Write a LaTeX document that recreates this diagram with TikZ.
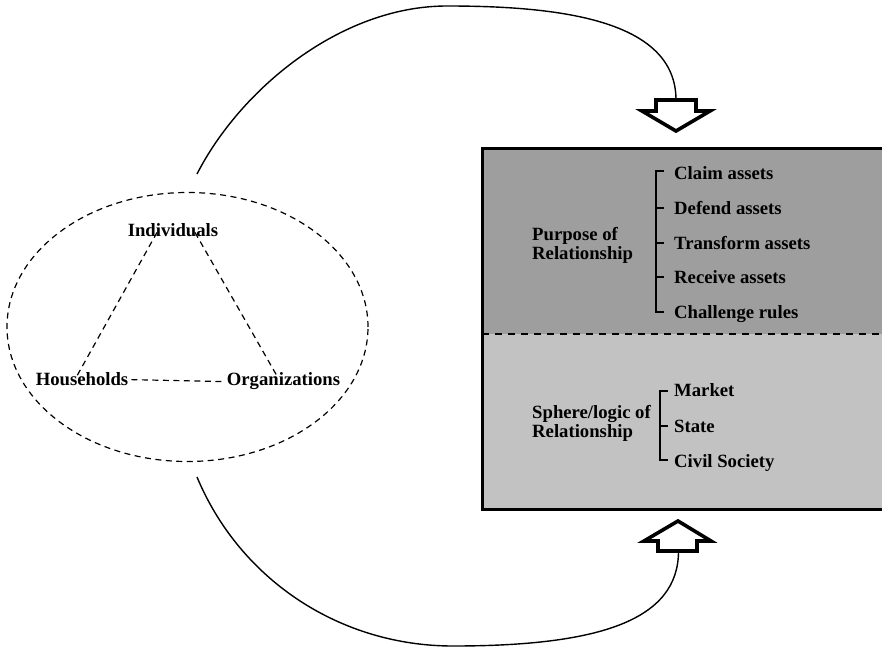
\documentclass[tikz,border=0pt]{standalone}
\usepackage{fontspec}
\setmainfont{Liberation Serif}
\usetikzlibrary{shapes.geometric}
\definecolor{topgray}{gray}{0.62}
\definecolor{botgray}{gray}{0.76}
\begin{document}
\begin{tikzpicture}[x=1pt,y=-1pt,
  lbl/.style={inner sep=0pt,font=\fontsize{18.7}{18.3}\selectfont\bfseries},
  dashline/.style={line width=1.2pt,dash pattern=on 6pt off 4.5pt},
  curveline/.style={line width=1.4pt},
  bigarrow/.style={line width=3.6pt,line join=miter,fill=white,draw=black},
  brack/.style={line width=1.3pt}]
\useasboundingbox (0,0) rectangle (882,647);
% right box
\fill[topgray] (482,148) rectangle (886,334);
\fill[botgray] (482,334) rectangle (886,510);
\draw[line width=2.6pt,dash pattern=on 7pt off 6pt] (482,334) -- (886,334);
\draw[line width=3pt,line join=miter] (886,148.5) -- (482.5,148.5) -- (482.5,509.5) -- (886,509.5);
% ellipse
\node[draw,ellipse,dashline,minimum width=361pt,minimum height=269pt,inner sep=0pt] (ell) at (187.5,327) {};
% left labels
\node[lbl,anchor=base] (ind) at (173,236) {Individuals};
\node[lbl,anchor=base] (hh) at (82,385) {Households};
\node[lbl,anchor=base] (org) at (283.5,385) {Organizations};
\draw[dashline] ([xshift=-16pt,yshift=4pt]ind.south) -- ([xshift=-5pt,yshift=-4pt]hh.north);
\draw[dashline] ([xshift=22pt,yshift=4pt]ind.south) -- ([xshift=-6pt,yshift=-5pt]org.north);
\draw[dashline] ([xshift=3pt,yshift=-1pt]hh.east) -- ([xshift=-4pt,yshift=-1pt]org.west);
% arrows
\draw[bigarrow] (656,100) -- (696,100) -- (696,111) -- (710,111) -- (676,131) -- (642,111) -- (656,111) -- cycle;
\coordinate (topin) at (676,100);
\draw[bigarrow] (658,551) -- (697,551) -- (697,541) -- (711,541) -- (678,521) -- (644,541) -- (658,541) -- cycle;
\coordinate (botin) at (678.5,551);
\coordinate (topout) at (197,174);
\coordinate (botout) at (197,477);
\draw[curveline] (topout) .. controls (240,90) and (340,6) .. (447,6) .. controls (560,6) and (676,20) .. (topin);
\draw[curveline] (botout) .. controls (240,580) and (340,646) .. (453,646) .. controls (600,646) and (678.5,620) .. (botin);
% purpose block
\node[lbl,anchor=base west,align=left] (purp) at (532,259) {Purpose of\\Relationship};
\node[lbl,anchor=base west] (p1) at (674,179) {Claim assets};
\node[lbl,anchor=base west] (p2) at (674,214) {Defend assets};
\node[lbl,anchor=base west] (p3) at (674,249) {Transform assets};
\node[lbl,anchor=base west] (p4) at (674,283) {Receive assets};
\node[lbl,anchor=base west] (p5) at (674,318) {Challenge rules};
\draw[brack] (664,171) -- (656,171) -- (656,312) -- (664,312);
\draw[brack] (656,208) -- (664,208);
\draw[brack] (656,243) -- (664,243);
\draw[brack] (656,277) -- (664,277);
% sphere block
\node[lbl,anchor=base west,align=left] (sph) at (532,437) {Sphere/logic of\\Relationship};
\node[lbl,anchor=base west] (s1) at (674,396) {Market};
\node[lbl,anchor=base west] (s2) at (674,432) {State};
\node[lbl,anchor=base west] (s3) at (674,467) {Civil Society};
\draw[brack] (668,391) -- (660,391) -- (660,460) -- (668,460);
\draw[brack] (660,426) -- (668,426);
\end{tikzpicture}
\end{document}
